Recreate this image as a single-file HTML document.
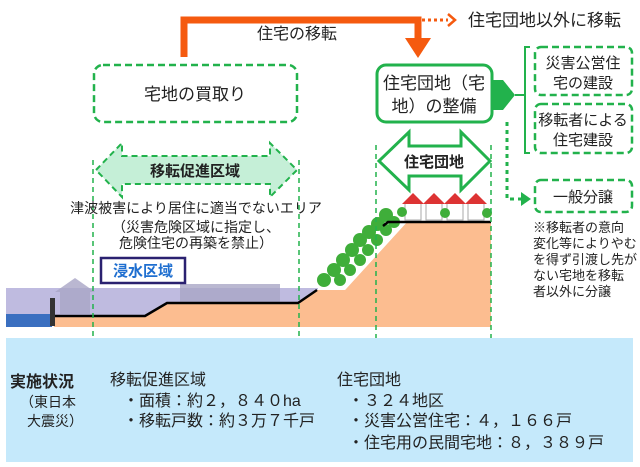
<!DOCTYPE html>
<html><head><meta charset="utf-8"><style>
body{margin:0;background:#fff;}
svg{display:block;font-family:"Liberation Sans","Noto Sans CJK JP",sans-serif;}
</style></head><body>
<svg width="640" height="467" viewBox="0 0 640 467" xmlns="http://www.w3.org/2000/svg">
<rect x="6" y="288" width="312" height="28" fill="#bfbbe0"/>
<rect x="6" y="314" width="46" height="13" fill="#3a6fc0"/>
<g fill="#a9a6c6" opacity="0.8">
<rect x="60" y="292" width="30" height="22"/><polygon points="55,292 75,278 95,292"/>
<rect x="180" y="284" width="100" height="20"/>
</g>
<polygon points="54,316 145,316 167,303 298,303 317,290 345,290 407,222 491,222 491,327 54,327" fill="#fcbd90"/>
<polygon points="317,290 345,290 407,222 387,222" fill="#fff"/>
<g fill="#3fae3a">
<circle cx="324" cy="280" r="7"/><circle cx="334" cy="270" r="7"/><circle cx="343" cy="260" r="7"/><circle cx="352" cy="250" r="7"/><circle cx="360" cy="240" r="7"/><circle cx="369" cy="232" r="7"/><circle cx="378" cy="224" r="7"/><circle cx="386" cy="215" r="7"/>
<circle cx="340" cy="280" r="6"/><circle cx="350" cy="270" r="6"/><circle cx="360" cy="260" r="6"/><circle cx="368" cy="250" r="6"/><circle cx="377" cy="240" r="6"/><circle cx="386" cy="230" r="6"/><circle cx="394" cy="222" r="6"/>
</g>
<polyline points="54,316 145,316 167,303 298,303 317,290" fill="none" stroke="#000" stroke-width="2.5"/>
<polyline points="383,226 388,222 491,222" fill="none" stroke="#000" stroke-width="2.5"/>
<rect x="50" y="298" width="5" height="28" fill="#333"/>
<g>
<rect x="405" y="202" width="16" height="18" fill="#fff" stroke="#aaa"/><polygon points="402,204 413,193 424,204" fill="#d33"/>
<rect x="426" y="202" width="16" height="18" fill="#fff" stroke="#aaa"/><polygon points="423,204 434,193 445,204" fill="#d33"/>
<rect x="447" y="202" width="16" height="18" fill="#fff" stroke="#aaa"/><polygon points="444,204 455,193 466,204" fill="#d33"/>
<rect x="468" y="202" width="16" height="18" fill="#fff" stroke="#aaa"/><polygon points="465,204 476,193 487,204" fill="#d33"/>
<circle cx="402" cy="212" r="5" fill="#3fae3a"/><circle cx="445" cy="213" r="5" fill="#3fae3a"/><circle cx="487" cy="213" r="5" fill="#3fae3a"/>
</g>
<g stroke="#22b24c" stroke-width="1.5" stroke-dasharray="5,4">
<line x1="93" y1="160" x2="93" y2="342"/><line x1="299" y1="160" x2="299" y2="342"/>
<line x1="376" y1="145" x2="376" y2="342"/><line x1="491" y1="145" x2="491" y2="342"/>
</g>
<polyline points="184,57 184,20 418,20 418,40" fill="none" stroke="#f55a0f" stroke-width="7"/>
<polygon points="405,38 431,38 418,58" fill="#f55a0f"/>
<line x1="422" y1="20" x2="448" y2="20" stroke="#f55a0f" stroke-width="3" stroke-dasharray="3,3"/>
<polyline points="448,14 455,20 448,26" fill="none" stroke="#f55a0f" stroke-width="2.5"/>
<text x="468" y="26" font-size="17" fill="#222">住宅団地以外に移転</text>
<text x="257" y="39" font-size="16" fill="#222">住宅の移転</text>
<rect x="94" y="65" width="203" height="57" rx="9" fill="#fff" stroke="#22b24c" stroke-width="2.5" stroke-dasharray="7,4"/>
<text x="195" y="100" font-size="17" text-anchor="middle" fill="#222">宅地の買取り</text>
<rect x="377" y="65" width="115" height="57" rx="9" fill="#fff" stroke="#22b24c" stroke-width="3"/>
<text x="434" y="89" font-size="17" text-anchor="middle" fill="#222">住宅団地（宅</text>
<text x="434" y="112" font-size="17" text-anchor="middle" fill="#222">地）の整備</text>
<polygon points="492,80 503,80 515,95 503,110 492,110" fill="#22b24c"/>
<line x1="515" y1="95" x2="525" y2="95" stroke="#22b24c" stroke-width="2"/>
<polyline points="530,47 525,47 525,153 530,153" fill="none" stroke="#22b24c" stroke-width="2"/>
<rect x="535" y="47" width="97" height="48" rx="6" fill="#fff" stroke="#22b24c" stroke-width="2.5" stroke-dasharray="7,4"/>
<text x="583" y="68" font-size="15" text-anchor="middle" fill="#222">災害公営住</text>
<text x="583" y="88" font-size="15" text-anchor="middle" fill="#222">宅の建設</text>
<rect x="535" y="104" width="97" height="49" rx="6" fill="#fff" stroke="#22b24c" stroke-width="2.5" stroke-dasharray="7,4"/>
<text x="583" y="125" font-size="15" text-anchor="middle" fill="#222">移転者による</text>
<text x="583" y="145" font-size="15" text-anchor="middle" fill="#222">住宅建設</text>
<polyline points="507,122 507,199 522,199" fill="none" stroke="#22b24c" stroke-width="3" stroke-dasharray="4,4"/>
<polygon points="521,192 531,199 521,206" fill="#22b24c"/>
<rect x="535" y="180" width="97" height="32" rx="6" fill="#fff" stroke="#22b24c" stroke-width="2.5" stroke-dasharray="7,4"/>
<text x="583" y="202" font-size="15" text-anchor="middle" fill="#222">一般分譲</text>
<g font-size="13" fill="#222">
<text x="533" y="232">※移転者の意向</text><text x="533" y="248">変化等によりやむ</text><text x="533" y="264">を得ず引渡し先が</text><text x="533" y="280">ない宅地を移転</text><text x="533" y="296">者以外に分譲</text>
</g>
<polygon points="96,170 122,143 122,156 270,156 270,143 297,170 270,197 270,184 122,184 122,197" fill="#c5efd7" stroke="#22b24c" stroke-width="2" stroke-dasharray="6,4"/>
<text x="195" y="176" font-size="15" font-weight="bold" text-anchor="middle" fill="#222">移転促進区域</text>
<polygon points="379,161 409,132 409,146 461,146 461,132 490,161 461,190 461,176 409,176 409,190" fill="#fff" stroke="#22b24c" stroke-width="3"/>
<text x="434" y="167" font-size="15" font-weight="bold" text-anchor="middle" fill="#222">住宅団地</text>
<g font-size="14" fill="#222" text-anchor="middle">
<text x="196" y="213">津波被害により居住に適当でないエリア</text>
<text x="196" y="232">（災害危険区域に指定し、</text>
<text x="196" y="248">危険住宅の再築を禁止）</text>
</g>
<rect x="101" y="258" width="84" height="25" fill="#fff" stroke="#2a2170" stroke-width="2.5"/>
<text x="143" y="276" font-size="15" font-weight="bold" text-anchor="middle" fill="#1f6fd0">浸水区域</text>
<rect x="6" y="338" width="627" height="124" fill="#c5e9fb"/>
<g fill="#222" font-size="16">
<text x="10" y="387" font-weight="bold">実施状況</text>
<text x="20" y="407" font-size="14">（東日本</text>
<text x="27" y="426" font-size="14">大震災）</text>
<text x="110" y="385">移転促進区域</text>
<text x="123" y="406">・面積：約２，８４０ha</text>
<text x="123" y="426">・移転戸数：約３万７千戸</text>
<text x="337" y="385">住宅団地</text>
<text x="348" y="406">・３２４地区</text>
<text x="348" y="426">・災害公営住宅：４，１６６戸</text>
<text x="348" y="448">・住宅用の民間宅地：８，３８９戸</text>
</g>
</svg>
</body></html>
